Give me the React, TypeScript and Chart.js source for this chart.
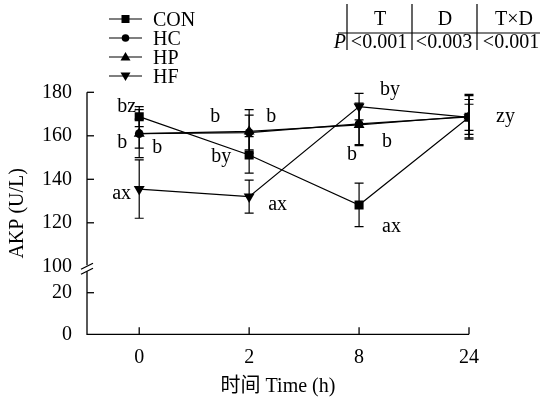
import React, { useEffect, useRef } from 'react';
import { Chart, registerables } from 'chart.js';

Chart.register(...registerables);

// ---- data ----
const categories = ['0', '2', '8', '24'];
const seriesNames = ['CON', 'HC', 'HP', 'HF'];
const conValues = [168.8, 151.2, 128.2, 168.5];
const conErrors = [4.6, 8.4, 10, 6];
const hcValues = [161, 161.5, 165.5, 168.7];
const hcErrors = [6.7, 8, 9.5, 8];
const hpValues = [161, 162, 165, 169];
const hpErrors = [11, 10, 9.5, 10];
const hfValues = [135.5, 132, 173.4, 168.5];
const hfErrors = [13.4, 7.6, 6.1, 10];
const yTickValues = [0, 20, 100, 120, 140, 160, 180];
const tableHeaders = ['T', 'D', 'T×D'];
const tablePValues = ['<0.001', '<0.003', '<0.001'];
const letterTexts = ['bz', 'b', 'b', 'ax', 'b', 'b', 'by', 'ax', 'by', 'b', 'b', 'ax', 'zy'];
const letterCats = [0, 0, 0, 0, 1, 1, 1, 1, 2, 2, 2, 2, 3];
const letterValues = [171.1, 154.3, 152, 130.8, 166.5, 166.5, 148.1, 125.8, 178.8, 154.7, 148.9, 115.9, 166.5];

// ---- layout / style ----
const letterDx = [-22, -22, 13, -27, -39, 17, -38, 19, 21, 23, -12, 23, 27];
const FONT = "'Liberation Serif', 'Times New Roman', 'Noto Sans CJK SC', serif";
const FS = 20;
const LOW_K = 0.956;
const BREAK_BASE = 31.27;
const tf = (v: number) => (v <= 20 ? v * LOW_K : BREAK_BASE + (v - 100));

const allValues = [conValues, hcValues, hpValues, hfValues];
const allErrors = [conErrors, hcErrors, hpErrors, hfErrors];
const pointStyles = ['rect', 'circle', 'triangle', 'triangle'];
const pointRadii = [6.4, 4.3, 6.3, 6.3];
const pointRotations = [0, 0, 0, 180];

function drawMarker(ctx: CanvasRenderingContext2D, kind: number, x: number, y: number) {
  ctx.beginPath();
  if (kind === 0) {
    ctx.rect(x - 4, y - 4, 8, 8);
  } else if (kind === 1) {
    ctx.arc(x, y, 3.8, 0, Math.PI * 2);
  } else if (kind === 2) {
    ctx.moveTo(x, y - 5);
    ctx.lineTo(x + 5, y + 3.5);
    ctx.lineTo(x - 5, y + 3.5);
    ctx.closePath();
  } else {
    ctx.moveTo(x, y + 5);
    ctx.lineTo(x + 5, y - 3.5);
    ctx.lineTo(x - 5, y - 3.5);
    ctx.closePath();
  }
  ctx.fill();
}

const decorPlugin = {
  id: 'decor',
  beforeDatasetsDraw(chart: any) {
    const { ctx, scales } = chart;
    const xs = scales.x;
    const ys = scales.y;
    ctx.save();
    ctx.strokeStyle = '#000';
    ctx.lineWidth = 1.2;
    // error bars
    allValues.forEach((vals, si) => {
      vals.forEach((v, i) => {
        const e = allErrors[si][i];
        const px = xs.getPixelForValue(i);
        const top = ys.getPixelForValue(tf(v + e));
        const bot = ys.getPixelForValue(tf(v - e));
        ctx.beginPath();
        ctx.moveTo(px, top);
        ctx.lineTo(px, bot);
        ctx.moveTo(px - 4.5, top);
        ctx.lineTo(px + 4.5, top);
        ctx.moveTo(px - 4.5, bot);
        ctx.lineTo(px + 4.5, bot);
        ctx.stroke();
      });
    });
    ctx.restore();
  },
  afterDraw(chart: any) {
    const { ctx, scales, chartArea } = chart;
    const xs = scales.x;
    const ys = scales.y;
    const L = chartArea.left;
    const B = chartArea.bottom;
    ctx.save();
    ctx.strokeStyle = '#000';
    ctx.fillStyle = '#000';
    ctx.lineWidth = 1.3;
    // axes with break
    const p100 = ys.getPixelForValue(tf(100));
    ctx.beginPath();
    ctx.moveTo(L, chartArea.top);
    ctx.lineTo(L, p100 - 1);
    ctx.moveTo(L, p100 + 5);
    ctx.lineTo(L, B);
    ctx.lineTo(chartArea.right, B);
    ctx.stroke();
    ctx.beginPath();
    ctx.moveTo(L - 6, p100 + 3);
    ctx.lineTo(L + 6, p100 - 3);
    ctx.moveTo(L - 6, p100 + 8);
    ctx.lineTo(L + 6, p100 + 2);
    ctx.stroke();
    // y ticks inside
    yTickValues.forEach((v) => {
      if (v === 100 || v === 0) return;
      const py = ys.getPixelForValue(tf(v));
      ctx.beginPath();
      ctx.moveTo(L, py);
      ctx.lineTo(L + 7, py);
      ctx.stroke();
    });
    // x ticks inside
    categories.forEach((_, i) => {
      const px = xs.getPixelForValue(i);
      ctx.beginPath();
      ctx.moveTo(px, B);
      ctx.lineTo(px, B - 7);
      ctx.stroke();
    });
    // significance letters
    ctx.font = `${FS}px ${FONT}`;
    ctx.textAlign = 'left';
    ctx.textBaseline = 'alphabetic';
    letterTexts.forEach((t, i) => {
      const px = xs.getPixelForValue(letterCats[i]) + letterDx[i];
      const py = ys.getPixelForValue(tf(letterValues[i]));
      ctx.fillText(t, px, py);
    });
    // legend
    const rowY = [19, 38, 57, 76];
    ctx.lineWidth = 1.2;
    seriesNames.forEach((name, i) => {
      const y = rowY[i];
      ctx.beginPath();
      ctx.moveTo(109, y);
      ctx.lineTo(142, y);
      ctx.stroke();
      drawMarker(ctx, i, 125.5, y);
      ctx.fillText(name, 153, y + 7);
    });
    // table
    ctx.lineWidth = 1.2;
    ctx.beginPath();
    [347, 412, 477].forEach((x) => {
      ctx.moveTo(x, 4);
      ctx.lineTo(x, 50);
    });
    ctx.moveTo(338, 33);
    ctx.lineTo(540, 33);
    ctx.stroke();
    ctx.textAlign = 'center';
    const hx = [380, 445, 514];
    tableHeaders.forEach((h, i) => ctx.fillText(h, hx[i], 25));
    const vx = [379, 444, 511];
    tablePValues.forEach((p, i) => ctx.fillText(p, vx[i], 47.5));
    ctx.textAlign = 'right';
    ctx.font = `italic ${FS}px ${FONT}`;
    ctx.fillText('P', 346, 47.5);
    ctx.restore();
  },
};

export default function App() {
  const ref = useRef<HTMLCanvasElement | null>(null);
  useEffect(() => {
    document.body.style.margin = '0';
    const canvas = ref.current;
    if (!canvas) return;
    const datasets = seriesNames.map((name, si) => ({
      label: name,
      data: allValues[si].map((v, i) => ({ x: i, y: tf(v) })),
      borderColor: '#000',
      backgroundColor: '#000',
      borderWidth: 1.2,
      pointStyle: pointStyles[si],
      pointRadius: pointRadii[si],
      pointRotation: pointRotations[si],
      pointBorderWidth: 0,
      pointBackgroundColor: '#000',
      showLine: true,
      fill: false,
      tension: 0,
    }));
    const chart = new Chart(canvas, {
      type: 'line',
      data: { datasets },
      plugins: [decorPlugin],
      options: {
        animation: false,
        responsive: false,
        devicePixelRatio: 1,
        layout: { padding: { top: 92.3, right: 71, left: 0, bottom: 0 } },
        plugins: { legend: { display: false }, tooltip: { enabled: false } },
        scales: {
          x: {
            type: 'linear',
            min: -0.475,
            max: 3,
            grid: { display: false, drawTicks: false },
            border: { display: false },
            afterBuildTicks: (s: any) => {
              s.ticks = categories.map((_, i) => ({ value: i }));
            },
            afterFit: (s: any) => {
              s.height = 65.7;
            },
            ticks: {
              color: '#000',
              padding: 11,
              font: { family: FONT, size: FS },
              callback: (_v: any, idx: number) => categories[idx],
            },
            title: {
              display: true,
              text: '时间 Time (h)',
              color: '#000',
              font: { family: FONT, size: FS },
              padding: { top: 0, bottom: 1 },
            },
          },
          y: {
            type: 'linear',
            min: 0,
            max: tf(180),
            grid: { display: false, drawTicks: false },
            border: { display: false },
            afterBuildTicks: (s: any) => {
              s.ticks = yTickValues.map((v) => ({ value: tf(v) }));
            },
            afterFit: (s: any) => {
              s.width = 87;
            },
            ticks: {
              color: '#000',
              padding: 15,
              font: { family: FONT, size: FS },
              callback: (_v: any, idx: number) => String(yTickValues[idx]),
            },
            title: {
              display: true,
              text: 'AKP (U/L)',
              color: '#000',
              font: { family: FONT, size: FS },
              padding: { top: 6, bottom: 0 },
            },
          },
        },
      } as any,
    });
    return () => chart.destroy();
  }, []);
  return (
    <div style={{ width: 540, height: 400, position: 'relative', background: '#fff' }}>
      <canvas ref={ref} width={540} height={400} />
    </div>
  );
}
